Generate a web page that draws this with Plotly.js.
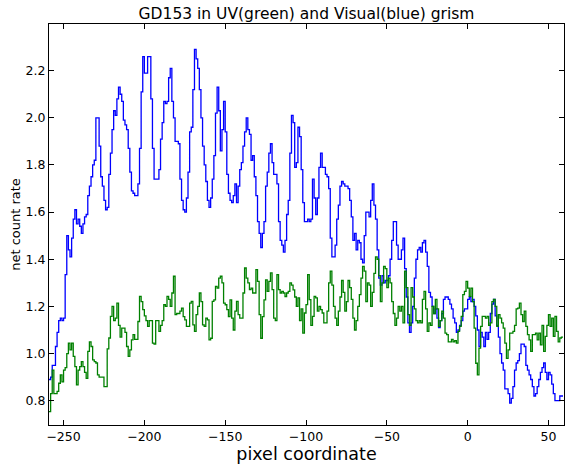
<!DOCTYPE html>
<html>
<head>
<meta charset="utf-8">
<script src="https://cdn.plot.ly/plotly-3.0.1.min.js"></script>
<style>html,body{margin:0;padding:0;background:#fff;}#chart{width:565px;height:466px;}</style>
</head>
<body>
<div id="chart"></div>
<script>
// pixel coordinate of the first sample; one sample per pixel
const xStart = -259;

// Visual grism (blue) net count rate, from x = -259 to 59
const visualRate = [
  0.89,0.90,0.95,0.95,1.03,1.09,1.14,1.15,1.14,1.15,
  1.335,1.50,1.44,1.41,1.49,1.57,1.61,1.55,1.57,1.54,
  1.51,1.55,1.58,1.59,1.67,1.71,1.75,1.80,1.82,2.00,
  2.00,1.88,1.75,1.71,1.65,1.61,1.62,1.76,1.85,1.95,
  2.03,2.01,2.08,2.13,2.10,2.07,1.99,1.97,1.95,1.87,
  1.77,1.69,1.68,1.67,1.67,1.72,1.87,2.11,2.26,2.19,
  2.19,2.26,2.26,2.08,1.87,1.74,1.74,1.74,1.78,1.91,
  1.98,2.07,2.06,2.07,2.17,2.21,2.07,2.00,1.90,1.90,
  1.89,1.74,1.65,1.61,1.60,1.66,1.77,1.94,1.96,2.12,
  2.29,2.25,2.21,2.12,2.00,1.88,1.80,1.73,1.65,1.62,
  1.66,1.74,1.84,2.02,2.13,2.03,1.86,1.95,2.07,1.94,
  1.76,1.68,1.65,1.64,1.67,1.72,1.64,1.71,1.78,1.81,
  1.88,1.94,2.00,1.95,1.93,1.82,1.84,1.75,1.67,1.56,
  1.51,1.45,1.51,1.56,1.71,1.77,1.85,1.89,1.81,1.76,
  1.76,1.72,1.56,1.48,1.46,1.43,1.48,1.59,1.65,1.85,
  2.01,1.98,1.79,1.81,1.96,1.92,1.78,1.64,1.56,1.56,
  1.57,1.56,1.57,1.74,1.66,1.59,1.66,1.79,1.85,1.79,
  1.79,1.76,1.75,1.70,1.49,1.41,1.41,1.46,1.57,1.63,
  1.71,1.73,1.72,1.71,1.71,1.70,1.65,1.58,1.48,1.51,
  1.44,1.48,1.47,1.40,1.385,1.50,1.60,1.60,1.58,1.65,
  1.72,1.63,1.57,1.44,1.32,1.29,1.33,1.30,1.31,1.31,
  1.33,1.40,1.48,1.56,1.56,1.46,1.40,1.40,1.44,1.49,
  1.36,1.24,1.13,1.09,1.13,1.20,1.32,1.40,1.44,1.45,
  1.43,1.47,1.48,1.43,1.37,1.26,1.24,1.20,1.17,1.19,
  1.15,1.11,1.14,1.17,1.23,1.24,1.24,1.23,1.21,1.19,
  1.15,1.13,1.09,1.10,1.12,1.14,1.18,1.19,1.19,1.23,
  1.24,1.22,1.23,1.20,1.16,1.10,1.03,1.09,1.07,1.03,
  1.09,1.06,1.09,1.17,1.21,1.23,1.16,1.12,1.07,1.00,
  0.96,0.93,0.85,0.85,0.83,0.79,0.81,0.86,0.93,0.96,
  0.97,1.00,1.04,1.04,1.03,0.95,0.93,0.91,0.89,0.86,
  0.82,0.83,0.86,0.89,0.92,0.94,0.96,0.92,0.89,0.92,
  0.91,0.87,0.83,0.80,0.80,0.80,0.82,0.82,0.82
];

// UV grism (green) net count rate, from x = -259 to 59
const uvRate = [
  0.754,0.83,0.93,0.83,0.83,0.84,0.874,0.91,0.88,0.93,
  0.94,1.00,1.044,1.016,1.044,0.988,0.945,0.867,0.93,0.945,
  0.966,0.945,0.92,0.895,1.009,1.05,1.03,0.973,0.966,0.96,
  0.91,0.90,0.90,0.90,0.86,0.86,1.02,1.066,1.158,1.20,
  1.14,1.15,1.214,1.12,1.07,1.108,1.108,1.09,1.03,0.988,
  1.016,1.058,1.08,1.06,1.06,1.136,1.243,1.22,1.186,1.16,
  1.14,1.115,1.14,1.14,1.044,1.04,1.14,1.14,1.094,1.12,
  1.14,1.207,1.20,1.243,1.23,1.20,1.257,1.328,1.165,1.17,
  1.17,1.18,1.193,1.157,1.143,1.115,1.115,1.214,1.221,1.122,
  1.094,1.165,1.20,1.257,1.22,1.122,1.115,1.15,1.143,1.058,
  1.065,1.221,1.228,1.285,1.278,1.32,1.328,1.30,1.214,1.207,
  1.186,1.157,1.228,1.15,1.10,1.18,1.221,1.165,1.15,1.15,
  1.257,1.363,1.32,1.30,1.271,1.278,1.257,1.257,1.356,1.306,
  1.165,1.065,1.157,1.228,1.313,1.264,1.306,1.342,1.271,1.15,
  1.14,1.335,1.271,1.257,1.264,1.257,1.242,1.257,1.264,1.30,
  1.29,1.27,1.24,1.20,1.236,1.14,1.19,1.087,1.172,1.208,
  1.335,1.229,1.12,1.158,1.243,1.236,1.18,1.20,1.186,1.172,
  1.13,1.13,1.18,1.30,1.35,1.29,1.20,1.15,1.12,1.18,
  1.24,1.31,1.26,1.18,1.22,1.31,1.28,1.23,1.15,1.10,
  1.14,1.20,1.25,1.32,1.37,1.35,1.22,1.30,1.29,1.20,
  1.26,1.34,1.41,1.40,1.33,1.22,1.30,1.37,1.36,1.28,
  1.32,1.30,1.22,1.17,1.12,1.15,1.20,1.18,1.20,1.13,
  1.35,1.28,1.165,1.12,1.28,1.24,1.19,1.14,1.13,1.14,
  1.13,1.23,1.264,1.19,1.094,1.13,1.12,1.20,1.17,1.23,
  1.19,1.115,1.14,1.18,1.15,1.087,1.08,1.05,1.05,1.06,
  1.05,1.055,1.044,1.094,1.115,1.158,1.25,1.264,1.306,1.278,
  1.243,1.278,1.22,1.108,0.959,0.91,1.023,1.115,1.158,1.158,
  1.15,1.158,1.12,1.13,1.22,1.23,1.20,1.115,1.165,1.15,
  1.13,1.108,1.044,0.98,1.016,1.087,1.087,1.094,1.12,1.19,
  1.193,1.214,1.165,1.136,1.18,1.115,1.08,1.058,1.009,1.08,
  1.08,1.087,1.058,1.087,1.037,1.12,1.009,1.073,1.12,1.165,
  1.115,1.15,1.073,1.158,1.094,1.05,1.066,1.07,1.07
];

const xTickVals = [-250, -200, -150, -100, -50, 0, 50];
const yTickVals = [0.8, 1.0, 1.2, 1.4, 1.6, 1.8, 2.0, 2.2];
const yTickText = ['0.8', '1.0', '1.2', '1.4', '1.6', '1.8', '2.0', '2.2'];

const xVisual = visualRate.map((_, i) => xStart + i);
const xUV = uvRate.map((_, i) => xStart + i);

const font = 'DejaVu Sans, sans-serif';

const traces = [
  {x: xVisual, y: visualRate, type: 'scatter', mode: 'lines',
   line: {shape: 'hv', color: '#0000ff', width: 1.3}, name: 'Visual'},
  {x: xUV, y: uvRate, type: 'scatter', mode: 'lines',
   line: {shape: 'hv', color: '#008000', width: 1.3}, name: 'UV'}
];

const axisCommon = {
  ticks: 'inside', ticklen: 5, tickwidth: 1, tickcolor: '#000',
  mirror: 'ticks', showline: true, linecolor: '#000', linewidth: 1,
  showgrid: false, zeroline: false,
  tickfont: {family: font, size: 12.5, color: '#000'}
};

const layout = {
  width: 565, height: 466,
  margin: {l: 49, r: 1, t: 24, b: 41, pad: 0},
  paper_bgcolor: '#fff', plot_bgcolor: '#fff',
  showlegend: false,
  title: {text: 'GD153 in UV(green) and Visual(blue) grism',
          font: {family: font, size: 15.5, color: '#000'},
          x: 0.5, xref: 'paper', xanchor: 'center',
          y: 1 - 14 / 466, yref: 'container', yanchor: 'middle'},
  xaxis: Object.assign({}, axisCommon, {
    range: [-259, 59.6], tickvals: xTickVals,
    title: {text: 'pixel coordinate', font: {family: font, size: 17.5, color: '#000'}, standoff: 2}
  }),
  yaxis: Object.assign({}, axisCommon, {
    range: [0.697, 2.398], tickvals: yTickVals, ticktext: yTickText,
    title: {text: 'net count rate', font: {family: font, size: 13, color: '#000'}, standoff: 2}
  })
};

Plotly.newPlot('chart', traces, layout, {displayModeBar: false, staticPlot: true});
</script>
</body>
</html>
